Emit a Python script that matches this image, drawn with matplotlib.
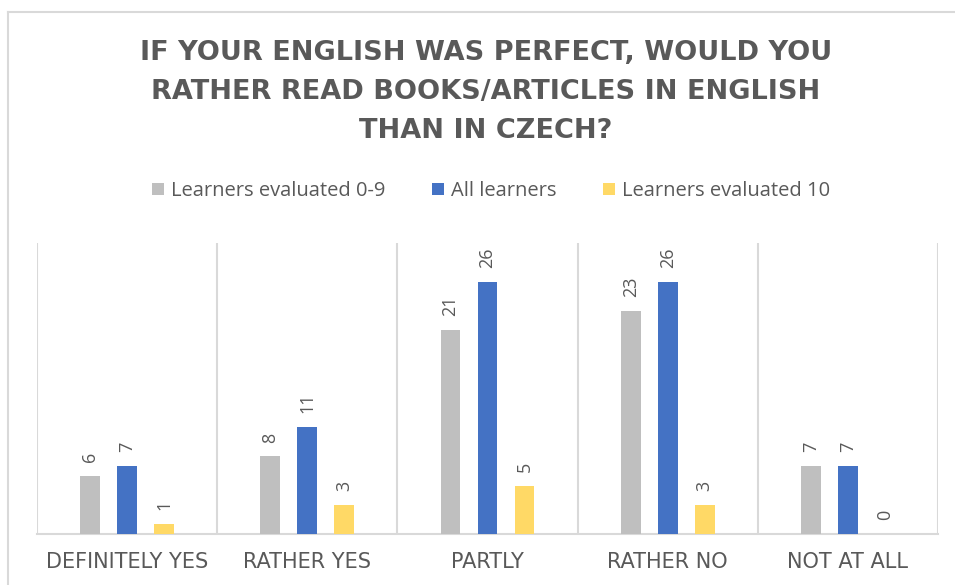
import matplotlib
matplotlib.use("Agg")
import matplotlib.pyplot as plt
import numpy as np
from matplotlib.lines import Line2D

categories = ["DEFINITELY YES", "RATHER YES", "PARTLY", "RATHER NO", "NOT AT ALL"]
series_names = ["Learners evaluated 0-9", "All learners", "Learners evaluated 10"]
learners_0_9 = [6, 8, 21, 23, 7]
all_learners = [7, 11, 26, 26, 7]
learners_10 = [1, 3, 5, 3, 0]
colors = ["#BFBFBF", "#4472C4", "#FFD966"]
title = "IF YOUR ENGLISH WAS PERFECT, WOULD YOU\nRATHER READ BOOKS/ARTICLES IN ENGLISH\nTHAN IN CZECH?"

plt.rcParams['font.family'] = ['Open Sans', 'DejaVu Sans']
txt = "#595959"
grid = "#D9D9D9"

fig = plt.figure(figsize=(9.55, 5.85), dpi=100)
ax = fig.add_axes([37/955, 51/585, (938-37)/955, (534-243)/585])

x = np.arange(len(categories))
offsets = [-0.205, 0.0, 0.205]
width = 0.11
for vals, off, c, name in zip([learners_0_9, all_learners, learners_10], offsets, colors, series_names):
    bars = ax.bar(x + off, vals, width, color=c, label=name, zorder=3)
    for b, v in zip(bars, vals):
        ax.annotate(str(v), (b.get_x() + b.get_width()/2, b.get_height()),
                    xytext=(0, 10), textcoords="offset points", rotation=90,
                    ha="center", va="bottom", fontsize=13, color=txt)

ax.set_xlim(-0.5, len(categories) - 0.5)
ax.set_ylim(0, 30)
ax.set_yticks([])
ax.set_xticks(x)
ax.set_xticklabels(categories, fontsize=15, color=txt, family=['DejaVu Sans'])
ax.tick_params(axis="x", length=0, pad=13)
for s in ["top", "right", "left"]:
    ax.spines[s].set_visible(False)
ax.spines["bottom"].set_color(grid)
ax.spines["bottom"].set_linewidth(1.5)
for b in np.arange(-0.5, len(categories), 1.0):
    ax.axvline(b, color=grid, lw=1.5, zorder=1)

leg = fig.legend(loc="center", bbox_to_anchor=(491/955, 1 - 191/585), ncol=3,
                 frameon=False, fontsize=14.5, handlelength=0.6, handleheight=0.6,
                 handletextpad=0.35, columnspacing=2.3)
for t in leg.get_texts():
    t.set_color(txt)

fig.text(486/955, 1 - 92/585, title, ha="center", va="center", fontsize=19.5,
         fontweight="bold", color=txt, linespacing=1.65, family=['DejaVu Sans'])

# outer chart frame
fig.add_artist(Line2D([8/955, 8/955], [0, 1 - 12/585], color=grid, lw=1.5, transform=fig.transFigure))
fig.add_artist(Line2D([8/955, 1], [1 - 12/585, 1 - 12/585], color=grid, lw=1.5, transform=fig.transFigure))

fig.savefig("out.png", dpi=100)
